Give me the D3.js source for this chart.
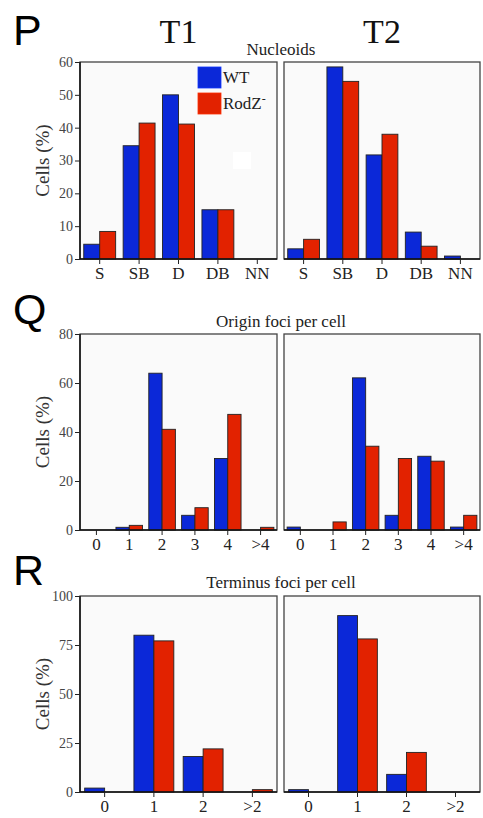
<!DOCTYPE html>
<html>
<head>
<meta charset="utf-8">
<script src="https://cdn.jsdelivr.net/npm/d3@7"></script>
<style>
  body { margin: 0; background: #fff; }
  svg { display: block; }
  .serif { font-family: "Liberation Serif", "Times New Roman", Times, "DejaVu Serif", serif; }
  .tick line { stroke: #222; }
  .yax text { font-family: "Liberation Serif", "Times New Roman", Times, "DejaVu Serif", serif; font-size: 14px; fill: #444; }
  .xax text { font-family: "Liberation Serif", "Times New Roman", Times, "DejaVu Serif", serif; font-size: 17px; fill: #222; }
</style>
</head>
<body>
<div id="chart"></div>
<script>
const width = 483;
const height = 818;

const WT_COLOR = '#0b28d8';
const ROD_COLOR = '#e22200';

// P: nucleoids
const nucleoidCats = ['S', 'SB', 'D', 'DB', 'NN'];
const nucT1WT = [4.5, 34.5, 50, 15, 0];
const nucT1Rod = [8.4, 41.4, 41.1, 15, 0];
const nucT2WT = [3.1, 58.5, 31.7, 8.2, 0.9];
const nucT2Rod = [6.0, 54.1, 38.0, 3.9, 0];
const nucTicks = [0, 10, 20, 30, 40, 50, 60];

// Q: origin foci
const originCats = ['0', '1', '2', '3', '4', '>4'];
const oriT1WT = [0, 1.1, 64, 6, 29.2, 0];
const oriT1Rod = [0, 1.9, 41.1, 9.1, 47.2, 1.1];
const oriT2WT = [1.2, 0, 62.1, 6, 30.1, 1.2];
const oriT2Rod = [0, 3.3, 34.2, 29.2, 28.1, 6];
const oriTicks = [0, 20, 40, 60, 80];

// R: terminus foci
const terminusCats = ['0', '1', '2', '>2'];
const terT1WT = [2, 80, 18.1, 0];
const terT1Rod = [0, 77.1, 22, 1.2];
const terT2WT = [1.2, 90, 9, 0];
const terT2Rod = [0, 78.1, 20.2, 0];
const terTicks = [0, 25, 50, 75, 100];

const rows = [
  { letter: 'P', title: 'Nucleoids', top: 62, bottom: 259, cats: nucleoidCats, ticks: nucTicks,
    t1: [nucT1WT, nucT1Rod], t2: [nucT2WT, nucT2Rod] },
  { letter: 'Q', title: 'Origin foci per cell', top: 334, bottom: 530, cats: originCats, ticks: oriTicks,
    t1: [oriT1WT, oriT1Rod], t2: [oriT2WT, oriT2Rod] },
  { letter: 'R', title: 'Terminus foci per cell', top: 596, bottom: 792, cats: terminusCats, ticks: terTicks,
    t1: [terT1WT, terT1Rod], t2: [terT2WT, terT2Rod] }
];

const panelX = [[80, 277], [284, 480]];

const svg = d3.select('#chart')
              .append('svg')
              .attr('width', width)
              .attr('height', height);

// column headers
svg.selectAll('.coltitle')
   .data(['T1', 'T2'])
   .enter().append('text')
   .attr('class', 'serif')
   .attr('x', (d, i) => (panelX[i][0] + panelX[i][1]) / 2)
   .attr('y', 43)
   .attr('text-anchor', 'middle')
   .attr('font-size', 34)
   .attr('fill', '#111')
   .text(d => d);

const letterY = { P: 45, Q: 324, R: 585 };
const subtitleY = { P: 55, Q: 327, R: 588 };

rows.forEach(row => {
    svg.append('text')
       .attr('x', 13)
       .attr('y', letterY[row.letter])
       .attr('font-family', '"Liberation Sans", Arial, sans-serif')
       .attr('font-size', 43)
       .attr('fill', '#000')
       .text(row.letter);

    svg.append('text')
       .attr('class', 'serif')
       .attr('x', 281)
       .attr('y', subtitleY[row.letter])
       .attr('text-anchor', 'middle')
       .attr('font-size', 17)
       .attr('fill', '#222')
       .text(row.title);

    svg.append('text')
       .attr('class', 'serif')
       .attr('transform', `translate(49,${(row.top + row.bottom) / 2}) rotate(-90)`)
       .attr('text-anchor', 'middle')
       .attr('font-size', 19)
       .attr('fill', '#333')
       .text('Cells (%)');

    const y = d3.scaleLinear()
                .domain([0, row.ticks[row.ticks.length - 1]])
                .range([row.bottom, row.top]);

    [row.t1, row.t2].forEach((series, p) => {
        const x = d3.scaleBand()
                    .domain(row.cats)
                    .range(panelX[p])
                    .paddingInner(0.19)
                    .paddingOuter(0.095);

        const g = svg.append('g');

        g.append('rect')
         .attr('x', panelX[p][0])
         .attr('y', row.top)
         .attr('width', panelX[p][1] - panelX[p][0])
         .attr('height', row.bottom - row.top)
         .attr('fill', '#fafafa')
         .attr('stroke', '#444')
         .attr('stroke-width', 1.3);

        const half = x.bandwidth() / 2;
        const bars = [];
        series.forEach((vals, s) => {
            vals.forEach((v, i) => {
                if (v > 0) bars.push({ cat: row.cats[i], v: v, s: s });
            });
        });

        g.selectAll('.bar')
         .data(bars)
         .enter().append('rect')
         .attr('x', d => x(d.cat) + d.s * half)
         .attr('y', d => y(d.v))
         .attr('width', half)
         .attr('height', d => y(0) - y(d.v))
         .attr('fill', d => d.s === 0 ? WT_COLOR : ROD_COLOR)
         .attr('stroke', '#222')
         .attr('stroke-width', 0.9);

        g.append('g')
         .attr('class', 'xax')
         .attr('transform', `translate(0,${row.bottom})`)
         .call(d3.axisBottom(x).tickSize(5).tickPadding(3))
         .call(a => a.select('.domain').attr('stroke', '#111').attr('stroke-width', 1.5)
                     .attr('d', `M${panelX[p][0]},0H${panelX[p][1]}`));

        if (p === 0) {
            g.append('g')
             .attr('class', 'yax')
             .attr('transform', `translate(${panelX[p][0]},0)`)
             .call(d3.axisLeft(y).tickValues(row.ticks).tickSize(5).tickPadding(2))
             .call(a => a.select('.domain').attr('stroke', '#111').attr('stroke-width', 1.5)
                         .attr('d', `M0,${row.top}V${row.bottom}`));
        }
    });
});

// legend inside the first panel
const legendItems = svg.selectAll('.legend-item')
                       .data([{ label: 'WT', color: WT_COLOR }, { label: 'RodZ', color: ROD_COLOR }])
                       .enter().append('g')
                       .attr('class', 'legend-item')
                       .attr('transform', (d, i) => `translate(198,${67 + i * 26})`);

legendItems.append('rect')
           .attr('width', 23)
           .attr('height', 21)
           .attr('fill', d => d.color)
           .attr('stroke', d => d3.color(d.color).brighter(0.8))
           .attr('stroke-width', 0.8);

const legendText = legendItems.append('text')
                              .attr('class', 'serif')
                              .attr('x', 25)
                              .attr('y', 16)
                              .attr('font-size', 17)
                              .attr('fill', '#222')
                              .text(d => d.label);

legendText.filter(d => d.label === 'RodZ')
          .append('tspan')
          .attr('dy', -6)
          .attr('font-size', 12)
          .text('-');

// small white patch seen in the first panel
svg.append('rect')
   .attr('x', 233)
   .attr('y', 152)
   .attr('width', 18)
   .attr('height', 17)
   .attr('fill', '#fff');
</script>
</body>
</html>
